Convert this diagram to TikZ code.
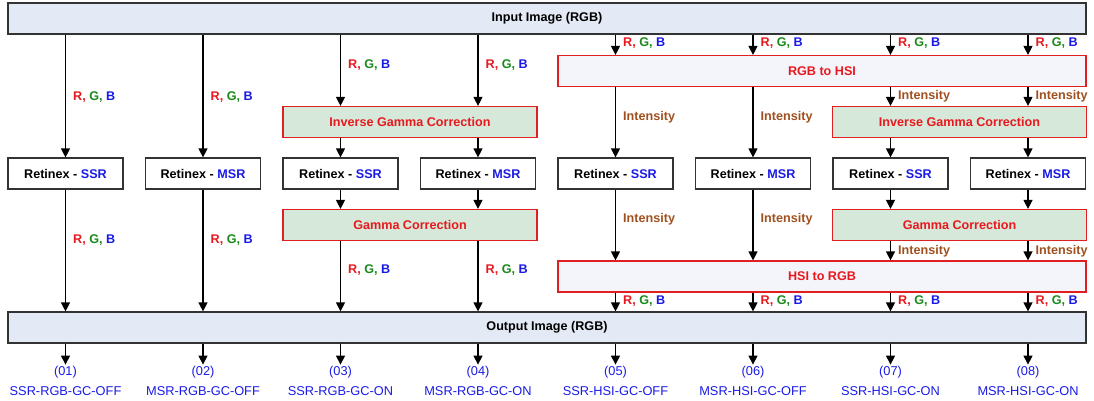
\documentclass[tikz,border=0pt]{standalone}
\usepackage{fontspec}
\setmainfont{Liberation Sans}
\usetikzlibrary{arrows.meta}
\definecolor{cR}{HTML}{E8191E}
\definecolor{cG}{HTML}{1A8A1A}
\definecolor{cB}{HTML}{1A1AE6}
\definecolor{cI}{HTML}{A0501E}
\definecolor{ioFill}{HTML}{E4EAF5}
\definecolor{gcFill}{HTML}{D5E8DA}
\definecolor{hsiFill}{HTML}{F3F5FB}
\definecolor{edge}{HTML}{333333}
\definecolor{redEdge}{HTML}{E02020}
\newcommand\myrgb{{\color{cR}R,} {\color{cG}G,} {\color{cB}B}}
\newcommand\myint{{\color{cI}Intensity}}
\begin{document}
\begin{tikzpicture}[x=1pt,y=-1pt,
  every node/.style={font=\fontsize{12.6}{15}\selectfont\bfseries, inner sep=0pt},
  iobox/.style={draw=edge, line width=1.2pt, fill=ioFill, minimum width=1078pt, minimum height=31pt},
  retbox/.style={draw=edge, line width=1.2pt, fill=white, minimum width=115pt, minimum height=31pt},
  gcbox/.style={draw=redEdge, line width=1.2pt, fill=gcFill, text=cR, minimum width=254pt, minimum height=31pt},
  hsibox/.style={draw=redEdge, line width=1.2pt, fill=hsiFill, text=cR, minimum width=528pt, minimum height=31pt},
  arr/.style={line width=1.2pt, -{Triangle[width=9pt,length=9pt]}},
  lab/.style={anchor=west},
  outlab/.style={font=\fontsize{12.8}{15}\selectfont, text=cB}]
\useasboundingbox (0,0) rectangle (1094,400);
% main boxes
\node[iobox] (in) at (547,18.5) {Input Image (RGB)};
\node[iobox] (out) at (547,327.5) {Output Image (RGB)};
\node[hsibox] (rgb2hsi) at (822,71) {RGB to HSI};
\node[hsibox] (hsi2rgb) at (822,276.5) {HSI to RGB};
\node[gcbox] (igcA) at (410,122) {Inverse Gamma Correction};
\node[gcbox] (igcB) at (959.5,122) {Inverse Gamma Correction};
\node[gcbox] (gcA) at (410,225) {Gamma Correction};
\node[gcbox] (gcB) at (959.5,225) {Gamma Correction};
% retinex boxes
\node[retbox] (r1) at (65.5,173.5) {Retinex - {\color{cB}SSR}};
\node[retbox] (r2) at (203,173.5) {Retinex - {\color{cB}MSR}};
\node[retbox] (r3) at (340.5,173.5) {Retinex - {\color{cB}SSR}};
\node[retbox] (r4) at (478,173.5) {Retinex - {\color{cB}MSR}};
\node[retbox] (r5) at (615.5,173.5) {Retinex - {\color{cB}SSR}};
\node[retbox] (r6) at (753,173.5) {Retinex - {\color{cB}MSR}};
\node[retbox] (r7) at (890.5,173.5) {Retinex - {\color{cB}SSR}};
\node[retbox] (r8) at (1028,173.5) {Retinex - {\color{cB}MSR}};
% columns 1,2
\foreach \i in {1,2}{
  \draw[arr] (in.south -| r\i.north) -- (r\i.north);
  \draw[arr] (r\i.south) -- (out.north -| r\i.south);
}
\node[lab] (l1a) at (73,97) {\myrgb};
\node[lab] (l2a) at (210.5,97) {\myrgb};
\node[lab] (l1b) at (73,240) {\myrgb};
\node[lab] (l2b) at (210.5,240) {\myrgb};
% columns 3,4
\foreach \i in {3,4}{
  \draw[arr] (in.south -| r\i.north) -- (igcA.north -| r\i.north);
  \draw[arr] (igcA.south -| r\i.north) -- (r\i.north);
  \draw[arr] (r\i.south) -- (gcA.north -| r\i.south);
  \draw[arr] (gcA.south -| r\i.south) -- (out.north -| r\i.south);
}
\node[lab] (l3a) at (348,65) {\myrgb};
\node[lab] (l4a) at (485.5,65) {\myrgb};
\node[lab] (l3b) at (348,270) {\myrgb};
\node[lab] (l4b) at (485.5,270) {\myrgb};
% columns 5-8
\foreach \i in {5,6,7,8}{
  \draw[arr] (in.south -| r\i.north) -- (rgb2hsi.north -| r\i.north);
  \draw[arr] (hsi2rgb.south -| r\i.south) -- (out.north -| r\i.south);
}
\foreach \i/\x in {5/623,6/760.5,7/898,8/1035.5}{
  \node[lab] (t\i) at (\x,43.5) {\myrgb};
  \node[lab] (b\i) at (\x,301.5) {\myrgb};
}
\foreach \i in {5,6}{
  \draw[arr] (rgb2hsi.south -| r\i.north) -- (r\i.north);
  \draw[arr] (r\i.south) -- (hsi2rgb.north -| r\i.south);
}
\node[lab] (i5a) at (623,117) {\myint};
\node[lab] (i6a) at (760.5,117) {\myint};
\node[lab] (i5b) at (623,219) {\myint};
\node[lab] (i6b) at (760.5,219) {\myint};
\foreach \i in {7,8}{
  \draw[arr] (rgb2hsi.south -| r\i.north) -- (igcB.north -| r\i.north);
  \draw[arr] (igcB.south -| r\i.north) -- (r\i.north);
  \draw[arr] (r\i.south) -- (gcB.north -| r\i.south);
  \draw[arr] (gcB.south -| r\i.south) -- (hsi2rgb.north -| r\i.south);
}
\node[lab] (i7a) at (898,96.5) {\myint};
\node[lab] (i8a) at (1035.5,96.5) {\myint};
\node[lab] (i7b) at (898,251) {\myint};
\node[lab] (i8b) at (1035.5,251) {\myint};
% outputs
\foreach \i/\n/\name in {1/01/SSR-RGB-GC-OFF,2/02/MSR-RGB-GC-OFF,3/03/SSR-RGB-GC-ON,4/04/MSR-RGB-GC-ON,5/05/SSR-HSI-GC-OFF,6/06/MSR-HSI-GC-OFF,7/07/SSR-HSI-GC-ON,8/08/MSR-HSI-GC-ON}{
  \path (out.south -| r\i.south) ++(0,21) coordinate (e\i);
  \draw[arr] (out.south -| r\i.south) -- (e\i);
  \node[outlab] (n\i) at ([shift={(0,7.5)}]e\i) {(\n)};
  \node[outlab] (m\i) at ([shift={(0,26)}]e\i) {\name};
}
\end{tikzpicture}
\end{document}
